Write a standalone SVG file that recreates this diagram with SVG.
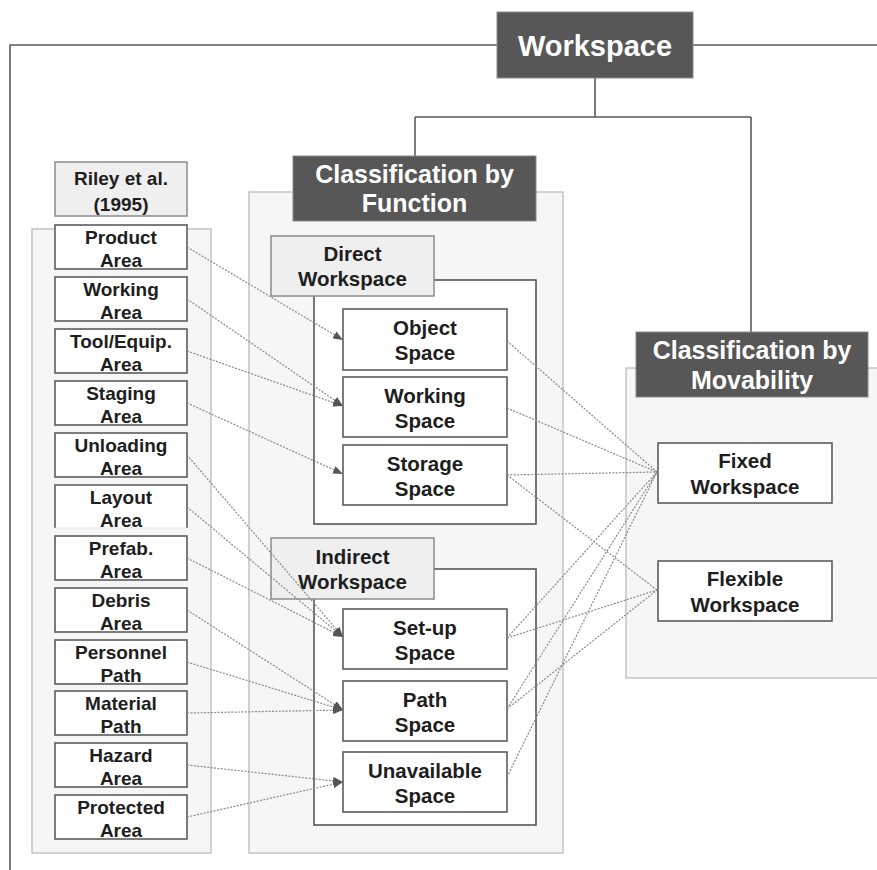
<svg xmlns="http://www.w3.org/2000/svg" width="877" height="870" viewBox="0 0 877 870">
  <style>
    .bg { fill: #ffffff; }
    .frame { fill: none; stroke: #5a5a5a; stroke-width: 1.6; }
    .panel { fill: #f6f6f6; stroke: #c4c4c4; stroke-width: 1.5; }
    .group { fill: #ffffff; stroke: #555555; stroke-width: 1.6; }
    .head { fill: #575757; stroke: #8a8a8a; stroke-width: 1; }
    .label { fill: #efefef; stroke: #8c8c8c; stroke-width: 1.5; }
    .node { fill: #ffffff; stroke: #5c5c5c; stroke-width: 1.6; }
    .ht { font-family: "Liberation Sans", Arial, sans-serif; font-weight: bold; fill: #ffffff; text-anchor: middle; }
    .t { font-family: "Liberation Sans", Arial, sans-serif; font-weight: bold; fill: #1e1e1e; text-anchor: middle; }
    .s19 { font-size: 19px; }
    .s21 { font-size: 20.5px; }
    .s25 { font-size: 25px; }
    .s29 { font-size: 29px; }
    .link { fill: none; stroke: #8a8a8a; stroke-width: 1.2; stroke-dasharray: 2 1.4; }
  </style>
  <defs>
    <marker id="arr" viewBox="0 0 10 8" refX="10" refY="4" markerWidth="10" markerHeight="8" markerUnits="userSpaceOnUse" orient="auto">
      <path d="M0,0 L10,4 L0,8 Z" fill="#555555"/>
    </marker>
  </defs>

  <rect class="bg" x="0" y="0" width="877" height="870"/>

  <!-- outer frame and hierarchy lines -->
  <g id="frame">
    <path class="frame" d="M497,45 H10 V870"/>
    <path class="frame" d="M693,45 H877"/>
    <path class="frame" d="M595,78 V117 M415,117 H751 M415,117 V157 M751,117 V332"/>
  </g>

  <!-- containers -->
  <g id="riley-panel">
    <rect class="panel" x="32" y="229" width="179" height="624"/>
  </g>
  <g id="function-panel">
    <rect class="panel" x="249" y="192" width="314" height="661"/>
  </g>
  <g id="movability-panel">
    <rect class="panel" x="626" y="368" width="260" height="310"/>
  </g>
  <g id="direct-frame">
    <rect class="group" x="314" y="280" width="222" height="244"/>
  </g>
  <g id="indirect-frame">
    <rect class="group" x="314" y="569" width="222" height="256"/>
  </g>

  <!-- headers -->
  <g id="workspace">
    <rect class="head" x="497" y="12" width="196" height="66"/>
    <text class="ht s29" x="595" y="56">Workspace</text>
  </g>
  <g id="by-function">
    <rect class="head" x="293" y="156" width="243" height="65"/>
    <text class="ht s25" x="414.5" y="183">Classification by</text>
    <text class="ht s25" x="414.5" y="212">Function</text>
  </g>
  <g id="by-movability">
    <rect class="head" x="636" y="332" width="232" height="65"/>
    <text class="ht s25" x="752" y="359">Classification by</text>
    <text class="ht s25" x="752" y="389">Movability</text>
  </g>
  <g id="riley">
    <rect class="label" x="55" y="162" width="132" height="54"/>
    <text class="t s19" x="121" y="185">Riley et al.</text>
    <text class="t s19" x="121" y="211">(1995)</text>
  </g>
  <g id="direct-workspace">
    <rect class="label" x="271" y="236" width="163" height="60"/>
    <text class="t s21" x="352.5" y="261">Direct</text>
    <text class="t s21" x="352.5" y="286">Workspace</text>
  </g>
  <g id="indirect-workspace">
    <rect class="label" x="271" y="538" width="163" height="61"/>
    <text class="t s21" x="352.5" y="564">Indirect</text>
    <text class="t s21" x="352.5" y="589">Workspace</text>
  </g>

  <!-- Riley et al. areas -->
  <g id="product-area">
    <rect class="node" x="55" y="225" width="132" height="44"/>
    <text class="t s19" x="121" y="244">Product</text>
    <text class="t s19" x="121" y="267">Area</text>
  </g>
  <g id="working-area">
    <rect class="node" x="55" y="277" width="132" height="44"/>
    <text class="t s19" x="121" y="296">Working</text>
    <text class="t s19" x="121" y="319">Area</text>
  </g>
  <g id="tool-area">
    <rect class="node" x="55" y="329" width="132" height="44"/>
    <text class="t s19" x="121" y="348">Tool/Equip.</text>
    <text class="t s19" x="121" y="371">Area</text>
  </g>
  <g id="staging-area">
    <rect class="node" x="55" y="381" width="132" height="44"/>
    <text class="t s19" x="121" y="400">Staging</text>
    <text class="t s19" x="121" y="423">Area</text>
  </g>
  <g id="unloading-area">
    <rect class="node" x="55" y="433" width="132" height="44"/>
    <text class="t s19" x="121" y="452">Unloading</text>
    <text class="t s19" x="121" y="475">Area</text>
  </g>
  <g id="layout-area">
    <rect x="55" y="485" width="132" height="43" fill="#ffffff"/>
    <path d="M55,528 V485 H187 V528" fill="none" stroke="#5c5c5c" stroke-width="1.6"/>
    <path d="M55,528 H187" fill="none" stroke="#e4e4e4" stroke-width="1"/>
    <text class="t s19" x="121" y="504">Layout</text>
    <text class="t s19" x="121" y="527">Area</text>
  </g>
  <g id="prefab-area">
    <rect class="node" x="55" y="536" width="132" height="44"/>
    <text class="t s19" x="121" y="555">Prefab.</text>
    <text class="t s19" x="121" y="578">Area</text>
  </g>
  <g id="debris-area">
    <rect class="node" x="55" y="588" width="132" height="44"/>
    <text class="t s19" x="121" y="607">Debris</text>
    <text class="t s19" x="121" y="630">Area</text>
  </g>
  <g id="personnel-path">
    <rect class="node" x="55" y="640" width="132" height="44"/>
    <text class="t s19" x="121" y="659">Personnel</text>
    <text class="t s19" x="121" y="682">Path</text>
  </g>
  <g id="material-path">
    <rect class="node" x="55" y="691" width="132" height="44"/>
    <text class="t s19" x="121" y="710">Material</text>
    <text class="t s19" x="121" y="733">Path</text>
  </g>
  <g id="hazard-area">
    <rect class="node" x="55" y="743" width="132" height="44"/>
    <text class="t s19" x="121" y="762">Hazard</text>
    <text class="t s19" x="121" y="785">Area</text>
  </g>
  <g id="protected-area">
    <rect class="node" x="55" y="795" width="132" height="44"/>
    <text class="t s19" x="121" y="814">Protected</text>
    <text class="t s19" x="121" y="837">Area</text>
  </g>

  <!-- spaces by function -->
  <g id="object-space">
    <rect class="node" x="343" y="309" width="164" height="61"/>
    <text class="t s21" x="425" y="335">Object</text>
    <text class="t s21" x="425" y="360">Space</text>
  </g>
  <g id="working-space">
    <rect class="node" x="343" y="377" width="164" height="60"/>
    <text class="t s21" x="425" y="403">Working</text>
    <text class="t s21" x="425" y="428">Space</text>
  </g>
  <g id="storage-space">
    <rect class="node" x="343" y="445" width="164" height="60"/>
    <text class="t s21" x="425" y="471">Storage</text>
    <text class="t s21" x="425" y="496">Space</text>
  </g>
  <g id="setup-space">
    <rect class="node" x="343" y="609" width="164" height="60"/>
    <text class="t s21" x="425" y="635">Set-up</text>
    <text class="t s21" x="425" y="660">Space</text>
  </g>
  <g id="path-space">
    <rect class="node" x="343" y="681" width="164" height="60"/>
    <text class="t s21" x="425" y="707">Path</text>
    <text class="t s21" x="425" y="732">Space</text>
  </g>
  <g id="unavailable-space">
    <rect class="node" x="343" y="752" width="164" height="60"/>
    <text class="t s21" x="425" y="778">Unavailable</text>
    <text class="t s21" x="425" y="803">Space</text>
  </g>

  <!-- spaces by movability -->
  <g id="fixed-workspace">
    <rect class="node" x="658" y="443" width="174" height="60"/>
    <text class="t s21" x="745" y="468">Fixed</text>
    <text class="t s21" x="745" y="494">Workspace</text>
  </g>
  <g id="flexible-workspace">
    <rect class="node" x="658" y="561" width="174" height="60"/>
    <text class="t s21" x="745" y="586">Flexible</text>
    <text class="t s21" x="745" y="612">Workspace</text>
  </g>

  <!-- connectors -->
  <g id="connectors">
    <!-- areas to function spaces -->
    <line class="link" x1="187" y1="247" x2="343" y2="340" marker-end="url(#arr)"/>
    <line class="link" x1="187" y1="299" x2="343" y2="406" marker-end="url(#arr)"/>
    <line class="link" x1="187" y1="351" x2="343" y2="406" marker-end="url(#arr)"/>
    <line class="link" x1="187" y1="403" x2="343" y2="474" marker-end="url(#arr)"/>
    <line class="link" x1="187" y1="455" x2="343" y2="637" marker-end="url(#arr)"/>
    <line class="link" x1="187" y1="507" x2="343" y2="637" marker-end="url(#arr)"/>
    <line class="link" x1="187" y1="558" x2="343" y2="637" marker-end="url(#arr)"/>
    <line class="link" x1="187" y1="610" x2="343" y2="710" marker-end="url(#arr)"/>
    <line class="link" x1="187" y1="662" x2="343" y2="710" marker-end="url(#arr)"/>
    <line class="link" x1="187" y1="713" x2="343" y2="710" marker-end="url(#arr)"/>
    <line class="link" x1="187" y1="765" x2="343" y2="782" marker-end="url(#arr)"/>
    <line class="link" x1="187" y1="817" x2="343" y2="782" marker-end="url(#arr)"/>
    <!-- function spaces to movability -->
    <line class="link" x1="507" y1="341" x2="657" y2="472"/>
    <line class="link" x1="507" y1="408" x2="657" y2="472"/>
    <line class="link" x1="507" y1="475" x2="657" y2="472"/>
    <line class="link" x1="507" y1="475" x2="657" y2="590"/>
    <line class="link" x1="507" y1="638" x2="657" y2="472"/>
    <line class="link" x1="507" y1="638" x2="657" y2="590"/>
    <line class="link" x1="507" y1="709" x2="657" y2="472"/>
    <line class="link" x1="507" y1="709" x2="657" y2="590"/>
    <line class="link" x1="507" y1="777" x2="657" y2="472"/>
  </g>
</svg>
